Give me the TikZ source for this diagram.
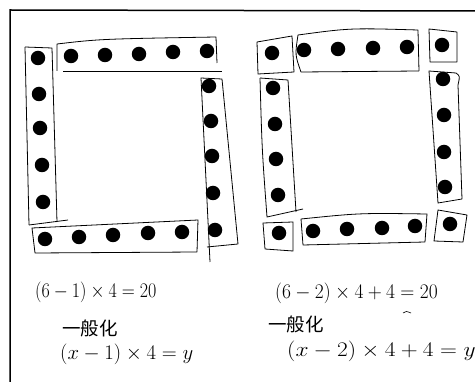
\documentclass[tikz,border=0pt]{standalone}
\usepackage{fontspec}
\usepackage{graphicx}
\newfontfamily\cjk{Noto Sans CJK SC}
\begin{document}
\begin{tikzpicture}[x=1pt,y=-1pt,
  box/.style={draw=black,line width=0.8pt,line join=round},
  frame/.style={draw=black,line width=1.5pt},
  dot/.style={circle,fill=black,inner sep=0pt,minimum size=14.5pt},
  eq/.style={anchor=base west,inner sep=0pt,font=\fontsize{20}{24}\selectfont},
  cj/.style={anchor=base west,inner sep=0pt,font=\cjk\fontsize{18.5}{22}\selectfont}]
\useasboundingbox (0,0) rectangle (475,382);
\fill[white] (0,0) rectangle (475,382);
% outer frame
\draw[frame] (10,382) -- (10,10) -- (475,11);

% ---------- left figure ----------
% boxes
\draw[box] (25,47) -- (52,48) -- (57,222);
\draw[box] (25,47) -- (29,225);
\draw[box] (29,225) -- (68,220);
\draw[box] (57,71) -- (57,44) .. controls (100,39) .. (216,37) -- (217,63);
\draw[box] (63,71) -- (222,71);
\draw[box] (210,262) -- (201,78) -- (222,79) -- (238,244) -- (207,247);
\draw[box] (32,228) -- (198,220) -- (197,252) -- (35,253) -- cycle;
% dots
\foreach \p [count=\i] in {(71,56),(105,55),(139,54),(173,52),(207,51)}
  \node[dot] (lt\i) at \p {};
\foreach \p [count=\i] in {(38,58),(39,94),(40,128),(42,165),(43,202)}
  \node[dot] (ll\i) at \p {};
\foreach \p [count=\i] in {(209,86),(211,121),(212,156),(213,193),(215,230)}
  \node[dot] (lr\i) at \p {};
\foreach \p [count=\i] in {(45,239),(79,237),(113,235),(148,233),(182,232)}
  \node[dot] (lb\i) at \p {};

% ---------- right figure ----------
\draw[box] (257,42) -- (292,36) -- (294,72) -- (258,74) -- cycle;
\draw[box] (298,35) .. controls (350,28) .. (418,30) -- (419,71);
\draw[box] (298,35) .. controls (295,55) .. (301,72) -- (419,71);
\draw[box] (429,29) -- (457,32) -- (457,62) -- (430,62) -- cycle;
\draw[box] (260,78) -- (288,80) -- (296,212);
\draw[box] (260,78) .. controls (262,150) .. (267,217) -- (303,209);
\draw[box] (429,71) -- (456,73) .. controls (460,76) .. (458,85) -- (462,199) -- (438,203) -- cycle;
\draw[box] (263,223) -- (293,222) -- (293,251) -- (265,249) -- cycle;
\draw[box] (301,219) .. controls (360,213) .. (427,214) -- (425,242) -- (303,245) -- cycle;
\draw[box] (438,210) -- (467,215) -- (463,242) -- (434,241) -- cycle;
\node[dot] (rtl) at (272,53) {};
\foreach \p [count=\i] in {(304,50),(338,49),(373,48),(407,47)}
  \node[dot] (rt\i) at \p {};
\node[dot] (rtr) at (442,45) {};
\foreach \p [count=\i] in {(273,88),(275,124),(276,159),(278,195)}
  \node[dot] (rl\i) at \p {};
\foreach \p [count=\i] in {(443,79),(444,115),(444,152),(445,187)}
  \node[dot] (rr\i) at \p {};
\node[dot] (rbl) at (279,233) {};
\foreach \p [count=\i] in {(313,231),(347,229),(382,228),(415,226)}
  \node[dot] (rb\i) at \p {};
\node[dot] (rbr) at (450,224) {};

% ---------- texts ----------
\node[eq] (e1) at (35,298) {\scalebox{0.87}[1]{$(6-1)\times4=20$}};
\node[cj] (g1) at (62,336) {一般化};
\node[eq] (f1) at (60,360) {\scalebox{1.0}[1]{$(x-1)\times4=y$}};

\node[eq] (e2) at (275,299) {\scalebox{0.94}[1]{$(6-2)\times4+4=20$}};
\draw[line width=0.6pt] (403,313) .. controls (406,311) .. (411,313);
\node[cj] (g2) at (268,332) {一般化};
\node[eq] (f2) at (287,357) {\scalebox{1.13}[1]{$(x-2)\times4+4=y$}};
\end{tikzpicture}
\end{document}
